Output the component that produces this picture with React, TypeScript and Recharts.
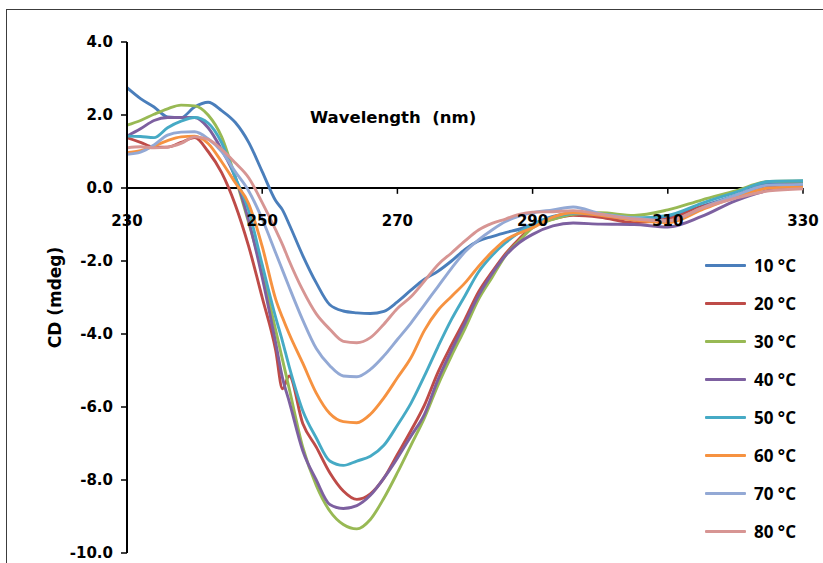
import React from 'react';
import { LineChart, Line, XAxis, YAxis, ReferenceLine } from 'recharts';

// wavelength grid (nm) and CD readings (mdeg) per temperature
const wavelength = [230, 232, 234, 236, 238, 240, 242, 244, 246, 248, 250, 252, 253, 254, 256, 258, 260, 262, 264, 266, 268, 270, 272, 274, 276, 278, 280, 282, 284, 286, 288, 290, 293, 296, 300, 305, 310, 315, 320, 325, 330];

const cd10 = [2.75, 2.45, 2.22, 1.95, 1.93, 2.22, 2.35, 2.12, 1.8, 1.25, 0.45, -0.35, -0.6, -1.0, -1.85, -2.6, -3.2, -3.37, -3.42, -3.44, -3.38, -3.12, -2.8, -2.5, -2.28, -2.0, -1.68, -1.45, -1.33, -1.22, -1.13, -0.99, -0.78, -0.7, -0.75, -0.85, -0.78, -0.5, -0.2, 0.12, 0.15];
const cd20 = [1.38, 1.25, 1.12, 1.12, 1.25, 1.38, 1.0, 0.42, -0.45, -1.6, -3.0, -4.45, -5.5, -5.15, -6.45, -7.1, -7.8, -8.3, -8.53, -8.38, -7.95, -7.3, -6.65, -5.95, -5.05, -4.3, -3.6, -2.85, -2.3, -1.8, -1.4, -1.05, -0.85, -0.75, -0.8, -0.95, -0.85, -0.52, -0.25, 0.05, 0.1];
const cd30 = [1.72, 1.85, 2.02, 2.17, 2.27, 2.25, 2.0, 1.4, 0.3, -0.95, -2.3, -3.9, -4.7, -5.5, -7.1, -8.15, -8.85, -9.22, -9.34, -9.08, -8.5, -7.8, -7.05, -6.3, -5.4, -4.6, -3.85, -3.05, -2.45, -1.85, -1.45, -1.09, -0.86, -0.72, -0.68, -0.75, -0.6, -0.33, -0.08, 0.18, 0.19];
const cd40 = [1.42, 1.62, 1.85, 1.93, 1.93, 1.93, 1.65, 1.05, 0.3, -0.9, -2.45, -4.25, -5.2, -5.85, -7.2, -8.0, -8.67, -8.78, -8.7, -8.42, -7.95, -7.4, -6.8, -6.2, -5.25, -4.45, -3.7, -2.95, -2.35, -1.85, -1.5, -1.27, -1.04, -0.96, -0.99, -1.0, -1.07, -0.78, -0.35, -0.06, 0.05];
const cd50 = [1.42, 1.41, 1.38, 1.65, 1.83, 1.93, 1.78, 1.24, 0.3, -0.62, -2.1, -3.55, -4.2, -4.9, -6.1, -6.85, -7.48, -7.6, -7.48, -7.35, -7.05, -6.5, -5.9, -5.15, -4.35, -3.6, -2.95, -2.3, -1.85, -1.5, -1.22, -1.0, -0.8, -0.7, -0.72, -0.82, -0.75, -0.42, -0.12, 0.18, 0.2];
const cd60 = [0.97, 1.02, 1.15, 1.3, 1.4, 1.42, 1.22, 0.72, 0.15, -0.43, -1.6, -3.05, -3.55, -4.0, -4.8, -5.62, -6.18, -6.4, -6.43, -6.2, -5.75, -5.2, -4.65, -3.9, -3.35, -2.97, -2.6, -2.15, -1.75, -1.42, -1.24, -1.09, -0.8, -0.68, -0.75, -0.88, -0.95, -0.6, -0.25, 0.0, 0.03];
const cd70 = [0.92, 0.98, 1.18, 1.45, 1.53, 1.54, 1.35, 1.0, 0.45, -0.08, -0.85, -1.78, -2.25, -2.72, -3.62, -4.4, -4.87, -5.15, -5.17, -4.97, -4.6, -4.15, -3.7, -3.2, -2.7, -2.2, -1.75, -1.42, -1.15, -0.92, -0.77, -0.68, -0.6, -0.52, -0.7, -0.82, -0.9, -0.55, -0.2, 0.08, 0.1];
const cd80 = [1.1, 1.13, 1.1, 1.12, 1.22, 1.4, 1.33, 1.06, 0.69, 0.28, -0.4, -1.15, -1.55, -2.0, -2.8, -3.45, -3.87, -4.2, -4.24, -4.1, -3.73, -3.3, -2.98, -2.55, -2.1, -1.78, -1.45, -1.15, -0.97, -0.85, -0.72, -0.66, -0.65, -0.62, -0.72, -0.85, -0.9, -0.55, -0.28, -0.08, -0.02];

const xTicks = [230, 250, 270, 290, 310, 330];
const yTicks = [-10, -8, -6, -4, -2, 0, 2, 4];

const SERIES = [
  { key: 't10', name: '10 °C', color: '#4A7EBB', values: cd10 },
  { key: 't20', name: '20 °C', color: '#BE4B48', values: cd20 },
  { key: 't30', name: '30 °C', color: '#98B954', values: cd30 },
  { key: 't40', name: '40 °C', color: '#7D60A0', values: cd40 },
  { key: 't50', name: '50 °C', color: '#46AAC5', values: cd50 },
  { key: 't60', name: '60 °C', color: '#F69240', values: cd60 },
  { key: 't70', name: '70 °C', color: '#93A9D5', values: cd70 },
  { key: 't80', name: '80 °C', color: '#D79593', values: cd80 },
];

const data = wavelength.map((nm, i) => {
  const row: Record<string, number> = { nm };
  SERIES.forEach(s => { row[s.key] = s.values[i]; });
  return row;
});

const tickFont = { fontFamily: 'DejaVu Sans', fontSize: 15, fontWeight: 'bold', fill: '#000' };

export default function App() {
  return (
    <div style={{ position: 'fixed', left: 0, top: 0, width: 823, height: 563, overflow: 'hidden', background: '#fff' }}>
      {/* outer frame, cropped at the right and bottom */}
      <div style={{ position: 'absolute', left: 6, top: 9, width: 900, height: 700, border: '1.5px solid #3c3c3c' }} />

      <div style={{ position: 'absolute', left: 0, top: 0 }}>
        <LineChart width={823} height={563} data={data} margin={{ top: 42, right: 20, bottom: 10, left: 0 }}>
          <XAxis dataKey="nm" type="number" domain={[230, 330]} ticks={xTicks} hide />
          <YAxis
            domain={[-10, 4]}
            ticks={yTicks}
            width={127}
            interval={0}
            tickFormatter={(v: number) => v.toFixed(1)}
            tick={tickFont}
            tickSize={6}
            tickMargin={8}
            axisLine={{ stroke: '#000', strokeWidth: 2 }}
            tickLine={{ stroke: '#000', strokeWidth: 1.5 }}
            label={{
              value: 'CD (mdeg)',
              angle: -90,
              position: 'insideLeft',
              offset: 55,
              style: { textAnchor: 'middle', fontFamily: 'DejaVu Sans', fontSize: 17, fontWeight: 'bold', fill: '#000' },
            }}
          />
          {/* x axis drawn through y = 0 */}
          <ReferenceLine y={0} stroke="#000" strokeWidth={2} />
          {xTicks.map(v => (
            <ReferenceLine
              key={v}
              segment={[{ x: v, y: 0 }, { x: v, y: -0.16 }]}
              stroke="#000"
              strokeWidth={1.5}
              label={{ value: String(v), position: 'bottom', offset: 22, ...tickFont }}
            />
          ))}
          {SERIES.map(s => (
            <Line
              key={s.key}
              type="monotone"
              dataKey={s.key}
              name={s.name}
              stroke={s.color}
              strokeWidth={2.9}
              dot={false}
              isAnimationActive={false}
            />
          ))}
        </LineChart>
      </div>

      <div style={{ position: 'absolute', left: 310, top: 107, fontFamily: 'DejaVu Sans', fontSize: 16.5, fontWeight: 'bold', whiteSpace: 'pre', lineHeight: '22px' }}>
        Wavelength  (nm)
      </div>

      <div style={{ position: 'absolute', left: 705, top: 247 }}>
        {SERIES.map(s => (
          <div key={s.key} style={{ display: 'flex', alignItems: 'center', height: 37.9 }}>
            <span style={{ display: 'inline-block', width: 41, height: 3, background: s.color, marginRight: 8, borderRadius: 1 }} />
            <span style={{ fontFamily: 'Open Sans', fontSize: 17, fontWeight: 'bold', color: '#000' }}>{s.name}</span>
          </div>
        ))}
      </div>
    </div>
  );
}
